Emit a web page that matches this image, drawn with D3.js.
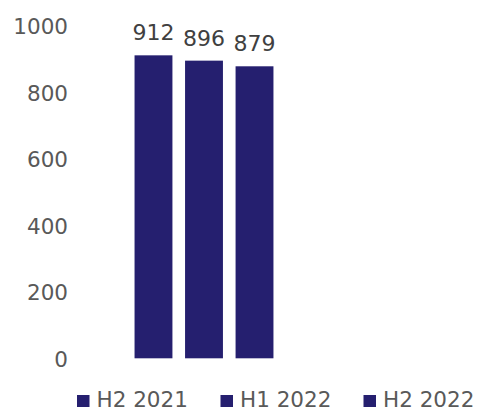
<!DOCTYPE html>
<html><head><meta charset="utf-8">
<script src="https://cdn.jsdelivr.net/npm/d3@7"></script>
<style>body{margin:0;background:#fff}</style>
</head><body>
<svg id="c" width="483" height="410"></svg>
<script>
const categories = ["H2 2021", "H1 2022", "H2 2022"];
const values = [912, 896, 879];
const yTicks = [0, 200, 400, 600, 800, 1000];
const barColor = "#251f6f";
const textColor = "#595959";
const font = "DejaVu Sans";

const svg = d3.select("#c");
const y = d3.scaleLinear().domain([0, 1000]).range([358.3, 26.1]);
const x = d3.scaleBand().domain(categories).range([130, 278]).paddingInner(0.25).paddingOuter(0.09);

const yAxis = d3.axisLeft(y).tickValues(yTicks).tickFormat(d3.format("d")).tickSize(0).tickPadding(0);
const gy = svg.append("g").attr("transform", "translate(68,0)").call(yAxis);
gy.select(".domain").remove();
gy.selectAll("text").attr("font-family", font).attr("font-size", 21.5).attr("fill", textColor).attr("dy", "0.36em");

svg.append("g").selectAll("rect").data(values).join("rect")
  .attr("x", (d, i) => x(categories[i]))
  .attr("width", x.bandwidth())
  .attr("y", d => y(d))
  .attr("height", d => y(0) - y(d))
  .attr("fill", barColor);

svg.append("g").selectAll("text").data(values).join("text")
  .attr("x", (d, i) => x(categories[i]) + x.bandwidth() / 2)
  .attr("y", d => y(d) - 15)
  .attr("text-anchor", "middle")
  .attr("font-family", font).attr("font-size", 22)
  .attr("fill", "#404040")
  .text(d => d);

const legendX = [77, 220.5, 363.5];
const lg = svg.append("g").selectAll("g").data(categories).join("g")
  .attr("transform", (d, i) => `translate(${legendX[i]},395)`);
lg.append("rect").attr("width", 12.5).attr("height", 12).attr("fill", barColor);
lg.append("text").attr("x", 19.5).attr("y", 11.5)
  .attr("font-family", font).attr("font-size", 21.5).attr("fill", textColor)
  .text(d => d);
</script>
</body></html>
